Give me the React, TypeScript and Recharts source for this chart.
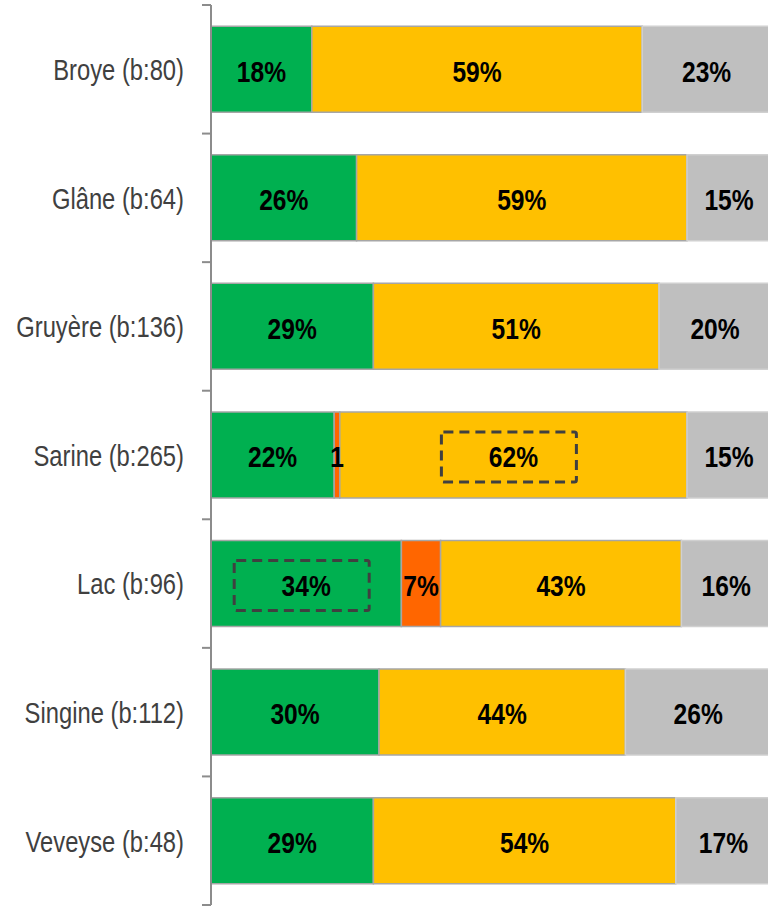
import React from "react";
import { BarChart, Bar, XAxis, YAxis, LabelList } from "recharts";

const categories = [
  "Broye (b:80)",
  "Glâne (b:64)",
  "Gruyère (b:136)",
  "Sarine (b:265)",
  "Lac (b:96)",
  "Singine (b:112)",
  "Veveyse (b:48)",
];
const greenValues = [18, 26, 29, 22, 34, 30, 29];
const orangeValues = [0, 0, 0, 1, 7, 0, 0];
const yellowValues = [59, 59, 51, 62, 43, 44, 54];
const grayValues = [23, 15, 20, 15, 16, 26, 17];

const highlights = [
  { category: "Sarine (b:265)", series: "yellow" },
  { category: "Lac (b:96)", series: "green" },
];

const data = categories.map((name, i) => ({
  name,
  green: greenValues[i],
  orange: orangeValues[i],
  yellow: yellowValues[i],
  gray: grayValues[i],
}));

const FONT = "'Liberation Sans', Arial, sans-serif";
const NARROW = 0.82;
const CHART_H = 906;
const MARGIN = { top: 5, right: 0, bottom: 1, left: 0 };
const BAND = (CHART_H - MARGIN.top - MARGIN.bottom) / categories.length;

const makeLabel = (series: string) => (props: any) => {
  const { x, y, width, height, value, index } = props;
  if (!value) return null;
  const cx = Number(x) + Number(width) / 2;
  const cy = Number(y) + Number(height) / 2;
  const txt = Number(width) < 12 ? String(value) : `${value}%`;
  const hl = highlights.some((h) => h.category === categories[index] && h.series === series);
  return (
    <g>
      {hl && (
        <rect
          x={cx - 72}
          y={cy - 23}
          width={135}
          height={50}
          fill="none"
          stroke="#404040"
          strokeWidth={3}
          strokeDasharray="10 6"
          rx={2}
        />
      )}
      <text
        transform={`translate(${cx},${cy + 2}) scale(${NARROW},1)`}
        x={0}
        y={0}
        textAnchor="middle"
        dominantBaseline="central"
        fontFamily={FONT}
        fontWeight="bold"
        fontSize={30}
        fill="#000"
      >
        {txt}
      </text>
    </g>
  );
};

const CategoryTick = (props: any) => {
  const { x, y, payload } = props;
  const half = payload && payload.offset ? payload.offset : BAND / 2;
  return (
    <g>
      <line x1={x - 9} y1={y - half} x2={x} y2={y - half} stroke="#8c8c8c" strokeWidth={2} />
      {payload.index === categories.length - 1 && (
        <line x1={x - 9} y1={y + half} x2={x} y2={y + half} stroke="#8c8c8c" strokeWidth={2} />
      )}
      <text
        transform={`translate(${x - 27},${y + 1}) scale(${NARROW},1)`}
        x={0}
        y={0}
        textAnchor="end"
        dominantBaseline="central"
        fontFamily={FONT}
        fontSize={29}
        fill="#404040"
      >
        {payload.value}
      </text>
    </g>
  );
};

export default function App() {
  return (
    <div style={{ position: "absolute", left: 0, top: 0, width: 768, height: 906, overflow: "hidden", background: "#fff" }}>
      <BarChart
        width={771}
        height={CHART_H}
        data={data}
        layout="vertical"
        margin={MARGIN}
        barCategoryGap="16.5%"
      >
        <XAxis type="number" domain={[0, 100]} hide />
        <YAxis
          type="category"
          dataKey="name"
          width={211}
          axisLine={{ stroke: "#8c8c8c", strokeWidth: 2 }}
          tickLine={false}
          tickSize={0}
          tickMargin={0}
          tick={<CategoryTick />}
          interval={0}
        />
        <Bar dataKey="green" stackId="a" fill="#00b050" stroke="#a6a6a6" strokeWidth={1.5} isAnimationActive={false}>
          <LabelList dataKey="green" content={makeLabel("green")} />
        </Bar>
        <Bar dataKey="orange" stackId="a" fill="#ff6600" stroke="#a6a6a6" strokeWidth={1.5} isAnimationActive={false}>
          <LabelList dataKey="orange" content={makeLabel("orange")} />
        </Bar>
        <Bar dataKey="yellow" stackId="a" fill="#ffc000" stroke="#a6a6a6" strokeWidth={1.5} isAnimationActive={false}>
          <LabelList dataKey="yellow" content={makeLabel("yellow")} />
        </Bar>
        <Bar dataKey="gray" stackId="a" fill="#bfbfbf" stroke="#d0d0d0" strokeWidth={1.5} isAnimationActive={false}>
          <LabelList dataKey="gray" content={makeLabel("gray")} />
        </Bar>
      </BarChart>
    </div>
  );
}
